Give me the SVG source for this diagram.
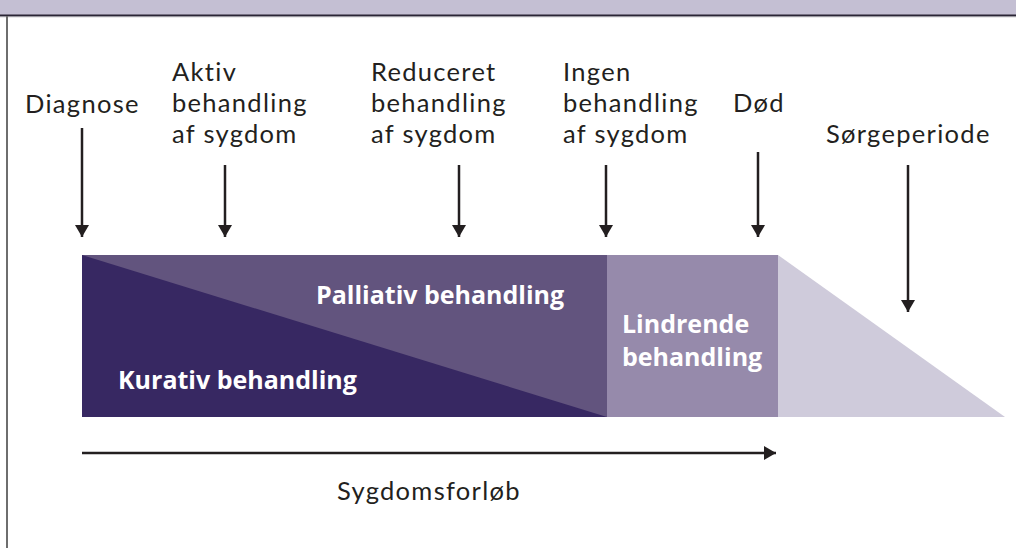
<svg xmlns="http://www.w3.org/2000/svg" width="1016" height="548" viewBox="0 0 1016 548">
<style>
.lbl{font-family:Lato,"Open Sans",sans-serif;font-size:25.5px;letter-spacing:1.3px;fill:#231f20}
.in{font-family:"Open Sans","Noto Sans",sans-serif;font-size:25px;font-weight:bold;fill:#ffffff}
.arr{stroke:#231f20;stroke-width:2.5;fill:none}
</style>
<defs>
<marker id="ahd" markerWidth="12" markerHeight="14" refX="12" refY="7" orient="auto" markerUnits="userSpaceOnUse" viewBox="0 0 12 14">
<path d="M0,0 L12,7 L0,14 Z" fill="#231f20"/>
</marker>
</defs>
<rect x="0" y="0" width="1016" height="548" fill="#ffffff"/>
<g id="frame">
<rect x="0" y="0" width="1016" height="15" fill="#c4bfd3"/>
<rect x="0" y="14.5" width="1016" height="1.5" fill="#2a2535"/>
<rect x="0" y="16" width="1016" height="1.2" fill="#9a98a0"/>
<rect x="6" y="16" width="2" height="532" fill="#6e6e6e"/>
</g>
<g id="kurativ">
<rect x="82" y="255" width="525" height="162" fill="#62547e"/>
<polygon points="82,255 607,417 82,417" fill="#372862"/>
<text class="in" x="118" y="389">Kurativ behandling</text>
</g>
<g id="palliativ">
<text class="in" x="316" y="304">Palliativ behandling</text>
</g>
<g id="lindrende">
<rect x="607" y="255" width="171" height="162" fill="#968aab"/>
<text class="in" x="622" y="333">Lindrende<tspan x="622" dy="33">behandling</tspan></text>
</g>
<g id="sorg">
<polygon points="778,255 1005,417 778,417" fill="#cfcbdb"/>
</g>
<g id="labels">
<text class="lbl" x="25" y="113">Diagnose</text>
<text class="lbl" x="172" y="81">Aktiv<tspan x="172" dy="31">behandling</tspan><tspan x="172" dy="31">af sygdom</tspan></text>
<text class="lbl" x="371" y="81">Reduceret<tspan x="371" dy="31">behandling</tspan><tspan x="371" dy="31">af sygdom</tspan></text>
<text class="lbl" x="563" y="81">Ingen<tspan x="563" dy="31">behandling</tspan><tspan x="563" dy="31">af sygdom</tspan></text>
<text class="lbl" x="733" y="112">Død</text>
<text class="lbl" x="826" y="143">Sørgeperiode</text>
<text class="lbl" x="337" y="500">Sygdomsforløb</text>
</g>
<g id="connectors">
<line class="arr" x1="82" y1="128" x2="82" y2="237" marker-end="url(#ahd)"/>
<line class="arr" x1="225" y1="165" x2="225" y2="237" marker-end="url(#ahd)"/>
<line class="arr" x1="459" y1="165" x2="459" y2="237" marker-end="url(#ahd)"/>
<line class="arr" x1="606" y1="165" x2="606" y2="237" marker-end="url(#ahd)"/>
<line class="arr" x1="758" y1="152" x2="758" y2="237" marker-end="url(#ahd)"/>
<line class="arr" x1="908" y1="165" x2="908" y2="312" marker-end="url(#ahd)"/>
<line class="arr" x1="82" y1="453" x2="776" y2="453" marker-end="url(#ahd)"/>
</g>
</svg>
